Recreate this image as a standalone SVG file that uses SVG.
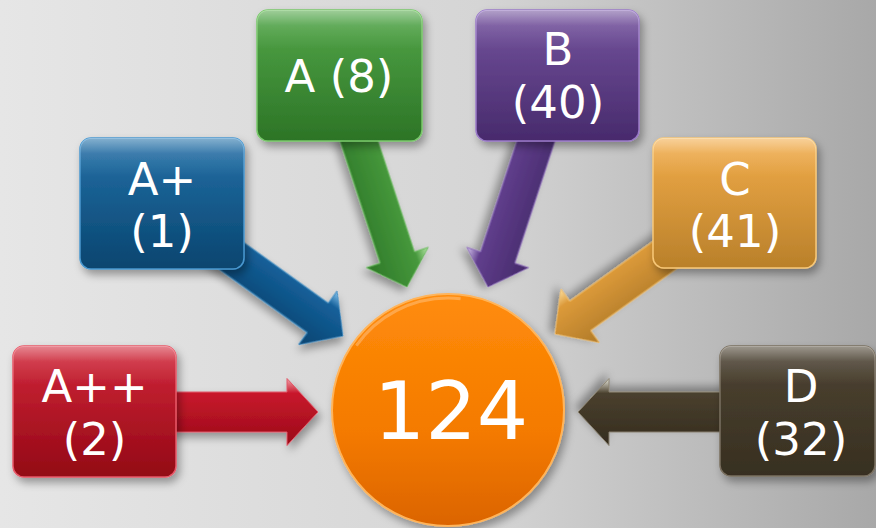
<svg xmlns="http://www.w3.org/2000/svg" width="876" height="528" viewBox="0 0 876 528">
<defs>
<linearGradient id="bg" x1="0" y1="0" x2="1" y2="0">
<stop offset="0" stop-color="#e6e6e6"/><stop offset="0.55" stop-color="#d5d5d5"/><stop offset="1" stop-color="#a8a8a8"/>
</linearGradient>
<linearGradient id="gRed" x1="0" y1="0" x2="0" y2="1"><stop offset="0" stop-color="#d2283a"/><stop offset="1" stop-color="#930715"/></linearGradient>
<linearGradient id="gBlue" x1="0" y1="0" x2="0" y2="1"><stop offset="0" stop-color="#2470a8"/><stop offset="1" stop-color="#08456f"/></linearGradient>
<linearGradient id="gGreen" x1="0" y1="0" x2="0" y2="1"><stop offset="0" stop-color="#52a648"/><stop offset="1" stop-color="#2c7426"/></linearGradient>
<linearGradient id="gPurple" x1="0" y1="0" x2="0" y2="1"><stop offset="0" stop-color="#74539e"/><stop offset="1" stop-color="#472a6c"/></linearGradient>
<linearGradient id="gOrange" x1="0" y1="0" x2="0" y2="1"><stop offset="0" stop-color="#f2ac4a"/><stop offset="1" stop-color="#b9802a"/></linearGradient>
<linearGradient id="gDark" x1="0" y1="0" x2="0" y2="1"><stop offset="0" stop-color="#4e4433"/><stop offset="1" stop-color="#372f20"/></linearGradient>
<linearGradient id="gCircle" x1="0" y1="0" x2="0" y2="1"><stop offset="0" stop-color="#ff8c0a"/><stop offset="0.6" stop-color="#f47a00"/><stop offset="1" stop-color="#db6400"/></linearGradient>
<linearGradient id="gloss" x1="0" y1="0" x2="0" y2="1">
<stop offset="0" stop-color="#ffffff" stop-opacity="0.45"/><stop offset="0.12" stop-color="#ffffff" stop-opacity="0.12"/><stop offset="0.3" stop-color="#ffffff" stop-opacity="0"/>
</linearGradient>
<linearGradient id="aRed" x1="0" y1="0" x2="0" y2="1"><stop offset="0" stop-color="#f0a0a8"/><stop offset="0.22" stop-color="#c8182c"/><stop offset="1" stop-color="#9a0a18"/></linearGradient>
<linearGradient id="aBlue" x1="0" y1="0" x2="0" y2="1"><stop offset="0" stop-color="#8cc8f0"/><stop offset="0.22" stop-color="#14609a"/><stop offset="1" stop-color="#0a4470"/></linearGradient>
<linearGradient id="aGreen" x1="0" y1="0" x2="0" y2="1"><stop offset="0" stop-color="#b8e8a8"/><stop offset="0.22" stop-color="#46983c"/><stop offset="1" stop-color="#2e7828"/></linearGradient>
<linearGradient id="aPurple" x1="0" y1="1" x2="0" y2="0"><stop offset="0" stop-color="#d8c8f0"/><stop offset="0.22" stop-color="#603e8c"/><stop offset="1" stop-color="#452a6a"/></linearGradient>
<linearGradient id="aOrange" x1="0" y1="1" x2="0" y2="0"><stop offset="0" stop-color="#fce0a0"/><stop offset="0.22" stop-color="#dc9a3a"/><stop offset="1" stop-color="#b07a28"/></linearGradient>
<linearGradient id="aDark" x1="0" y1="1" x2="0" y2="0"><stop offset="0" stop-color="#e8e8dc"/><stop offset="0.22" stop-color="#4a402e"/><stop offset="1" stop-color="#342c1e"/></linearGradient>
<filter id="sh" x="-20%" y="-20%" width="140%" height="150%">
<feDropShadow dx="3" dy="5" stdDeviation="4" flood-color="#000" flood-opacity="0.35"/>
</filter>
</defs>
<style>
.lbl{font-family:"DejaVu Sans","Liberation Sans",sans-serif;font-size:45px;fill:#ffffff;text-anchor:middle}
.big{font-family:"DejaVu Sans","Liberation Sans",sans-serif;font-size:81px;fill:#ffffff;text-anchor:middle}
.box{filter:url(#sh)}
.arr{filter:url(#sh)}
</style>
<rect x="0" y="0" width="876" height="528" fill="url(#bg)"/>

<g id="connectors">
<polygon class="arr" fill="url(#aRed)" stroke="#e05868" stroke-width="1" transform="translate(318,412)" points="-150,-20 -31,-20 -31,-33.5 0,0 -31,33.5 -31,20 -150,20"/>
<polygon class="arr" fill="url(#aBlue)" stroke="#3a88c0" stroke-width="1" transform="translate(343,336) rotate(35.7)" points="-160,-18 -31,-18 -31,-33 0,0 -31,33 -31,18 -160,18"/>
<polygon class="arr" fill="url(#aGreen)" stroke="#66b85a" stroke-width="1" transform="translate(407,287) rotate(71.8)" points="-165,-18 -31,-18 -31,-32.5 0,0 -31,32.5 -31,18 -165,18"/>
<polygon class="arr" fill="url(#aPurple)" stroke="#8a6ab8" stroke-width="1" transform="translate(488,287) rotate(108.2)" points="-165,-18 -31,-18 -31,-32.5 0,0 -31,32.5 -31,18 -165,18"/>
<polygon class="arr" fill="url(#aOrange)" stroke="#f0bc68" stroke-width="1" transform="translate(555,334) rotate(144.3)" points="-160,-18 -31,-18 -31,-33 0,0 -31,33 -31,18 -160,18"/>
<polygon class="arr" fill="url(#aDark)" stroke="#8a8270" stroke-width="1" transform="translate(578,412) rotate(180)" points="-160,-20 -31,-20 -31,-33.5 0,0 -31,33.5 -31,20 -160,20"/>
</g>

<g id="node-center">
<circle class="box" cx="448" cy="410" r="116" fill="url(#gCircle)" stroke="#ffb45a" stroke-width="2"/>
<circle cx="448" cy="410" r="112" fill="none" stroke="#ffffff" stroke-opacity="0.25" stroke-width="3" stroke-dasharray="120 580" stroke-dashoffset="-420"/>
<text class="big" x="451" y="439">124</text>
</g>

<g id="node-app">
<rect class="box" x="13" y="346" width="163" height="131" rx="11" fill="url(#gRed)" stroke="#e85868" stroke-width="1.5"/>
<rect x="13" y="346" width="163" height="131" rx="11" fill="url(#gloss)"/>
<text class="lbl" x="94.5" y="402">A++</text>
<text class="lbl" x="94.5" y="455">(2)</text>
</g>

<g id="node-ap">
<rect class="box" x="80" y="138" width="164" height="131" rx="11" fill="url(#gBlue)" stroke="#4a98d0" stroke-width="1.5"/>
<rect x="80" y="138" width="164" height="131" rx="11" fill="url(#gloss)"/>
<text class="lbl" x="162" y="195">A+</text>
<text class="lbl" x="162" y="247">(1)</text>
</g>

<g id="node-a">
<rect class="box" x="257" y="10" width="165" height="131" rx="11" fill="url(#gGreen)" stroke="#78c86a" stroke-width="1.5"/>
<rect x="257" y="10" width="165" height="131" rx="11" fill="url(#gloss)"/>
<text class="lbl" x="339" y="92">A (8)</text>
</g>

<g id="node-b">
<rect class="box" x="476" y="10" width="163" height="131" rx="11" fill="url(#gPurple)" stroke="#9a7ac8" stroke-width="1.5"/>
<rect x="476" y="10" width="163" height="131" rx="11" fill="url(#gloss)"/>
<text class="lbl" x="558" y="65">B</text>
<text class="lbl" x="558" y="118">(40)</text>
</g>

<g id="node-c">
<rect class="box" x="653" y="138" width="163" height="130" rx="11" fill="url(#gOrange)" stroke="#f8c878" stroke-width="1.5"/>
<rect x="653" y="138" width="163" height="130" rx="11" fill="url(#gloss)"/>
<text class="lbl" x="735" y="195">C</text>
<text class="lbl" x="735" y="247">(41)</text>
</g>

<g id="node-d">
<rect class="box" x="720" y="346" width="155" height="130" rx="11" fill="url(#gDark)" stroke="#7a7060" stroke-width="1.5"/>
<rect x="720" y="346" width="155" height="130" rx="11" fill="url(#gloss)"/>
<text class="lbl" x="801" y="402">D</text>
<text class="lbl" x="801" y="455">(32)</text>
</g>
</svg>
